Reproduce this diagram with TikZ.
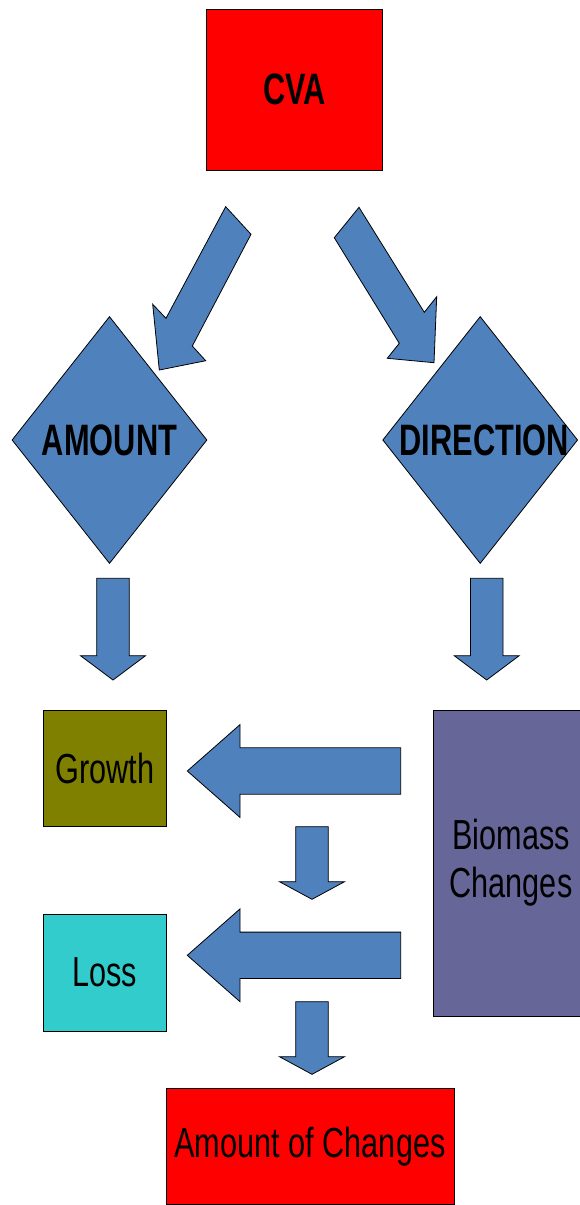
\documentclass[tikz,border=0pt]{standalone}
\usepackage{fontspec}
\setmainfont{Liberation Sans}[FakeStretch=0.73,BoldFeatures={FakeStretch=0.70}]
\usetikzlibrary{shapes.geometric}

\definecolor{arrowblue}{HTML}{4F81BD}
\definecolor{boxred}{HTML}{FF0000}
\definecolor{boxolive}{HTML}{808000}
\definecolor{boxteal}{HTML}{33CCCC}
\definecolor{boxslate}{HTML}{666699}

\tikzset{
  box/.style={rectangle, draw, line width=0.8pt, inner sep=0pt, align=center,
    font=\fontsize{42}{48}\selectfont},
  choice/.style={diamond, draw, fill=arrowblue, line width=0.8pt, inner sep=0pt,
    minimum width=195pt, minimum height=247pt, font=\fontsize{44}{48}\selectfont\bfseries},
  blockarrow/.style={draw, fill=arrowblue, line width=0.8pt, line join=miter}
}

% x, top, head base, tip
\newcommand{\downblock}[4]{%
  \filldraw[blockarrow] (#1-16.3,#2) -- (#1+16.3,#2) -- (#1+16.3,#3) -- (#1+32.5,#3)
    -- (#1,#4) -- (#1-32.5,#3) -- (#1-16.3,#3) -- cycle;}
% centre y, right end
\newcommand{\leftblock}[2]{%
  \filldraw[blockarrow] (#2,#1-23.2) -- (240,#1-23.2) -- (240,#1-46.4) -- (187.3,#1)
    -- (240,#1+46.4) -- (240,#1+23.2) -- (#2,#1+23.2) -- cycle;}

\begin{document}
\begin{tikzpicture}[x=1pt, y=-1pt]
  \useasboundingbox (0,0) rectangle (579,1205);

  \node[box, fill=boxred, minimum width=175.6pt, minimum height=161pt,
    font=\fontsize{44}{48}\selectfont\bfseries] (cva) at (294.5,89.5) {CVA};
  \node[choice] (amount) at (109.5,440) {\makebox[0pt]{AMOUNT}};
  \node[choice] (direction) at (480.2,440) {\makebox[0pt]{\hspace{8pt}DIRECTION}};
  \node[box, fill=boxolive, minimum width=123.7pt, minimum height=116.7pt] (growth) at (104.8,768.3) {Growth};
  \node[box, fill=boxteal, minimum width=123.7pt, minimum height=116.7pt] (loss) at (104.8,972.7) {Loss};
  \node[box, fill=boxslate, minimum width=156pt, minimum height=306pt] (biomass) at (511,863) {Biomass\\Changes};
  \node[box, fill=boxred, minimum width=288pt, minimum height=116pt] (changes) at (310,1146.5) {Amount of Changes};

  \filldraw[blockarrow] (225.7,206.7) -- (251,234.3) -- (192.3,346) -- (205.7,360.7)
    -- (159.3,370) -- (152.7,304.3) -- (166,318.3) -- cycle;
  \filldraw[blockarrow] (359,207.3) -- (334.3,237.7) -- (399.3,343.3) -- (387.3,358.3)
    -- (434,362.7) -- (436.7,296.7) -- (424.3,312.3) -- cycle;

  \downblock{113}{578.3}{655.7}{680}
  \downblock{486.7}{578.3}{655.7}{680}
  \downblock{312}{826.7}{881.7}{899.3}
  \downblock{312}{1001.7}{1056.7}{1074.3}

  \leftblock{771}{400.7}
  \leftblock{955.3}{400.7}
\end{tikzpicture}
\end{document}
